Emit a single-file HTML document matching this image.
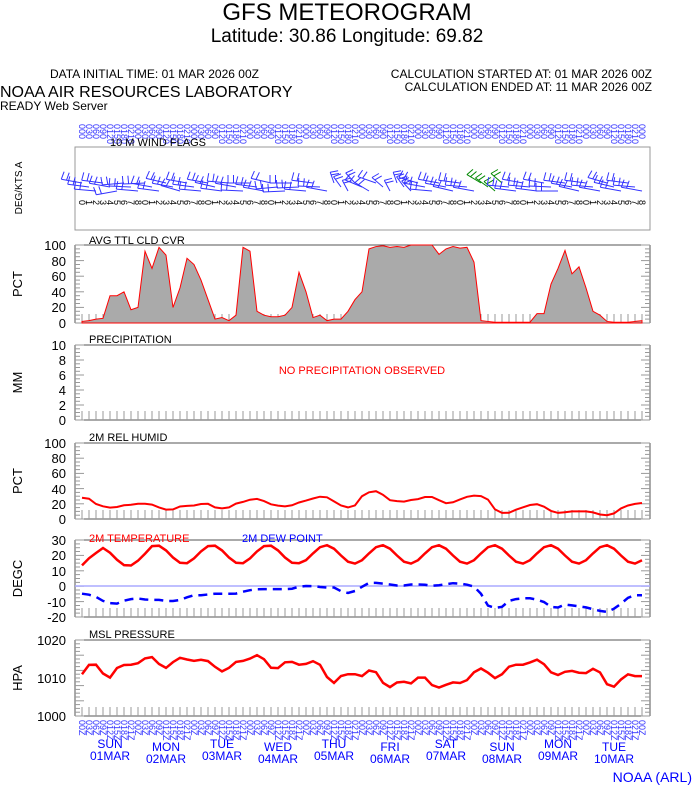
<!DOCTYPE html><html><head><style>body{margin:0;background:#fff}svg{display:block;font-family:"Liberation Sans",sans-serif}</style></head><body>
<svg id="s" width="694" height="788" xmlns="http://www.w3.org/2000/svg">
<text x="347" y="20" font-size="24" text-anchor="middle">GFS METEOROGRAM</text>
<text x="347" y="42" font-size="19" text-anchor="middle">Latitude: 30.86 Longitude:  69.82</text>
<text x="50" y="78" font-size="12">DATA INITIAL TIME: 01 MAR 2026 00Z</text>
<text x="652" y="78" font-size="12" text-anchor="end">CALCULATION STARTED AT: 01 MAR 2026 00Z</text>
<text x="652" y="91" font-size="12" text-anchor="end">CALCULATION ENDED AT: 11 MAR 2026 00Z</text>
<text x="0" y="97" font-size="16">NOAA AIR RESOURCES LABORATORY</text>
<text x="0" y="110" font-size="12">READY Web Server</text>
<g id="g"></g>
<text x="110" y="146" font-size="11">10 M  WIND FLAGS</text>
<text x="89" y="244" font-size="11">AVG TTL CLD CVR</text>
<text x="89" y="343" font-size="11">PRECIPITATION</text>
<text x="362" y="374" font-size="11" fill="#f00" text-anchor="middle">NO PRECIPITATION OBSERVED</text>
<text x="89" y="441" font-size="11">2M REL HUMID</text>
<text x="89" y="542" font-size="11" fill="#f00">2M TEMPERATURE</text>
<text x="242" y="542" font-size="11" fill="#00f">2M  DEW POINT</text>
<text x="89" y="638" font-size="11">MSL PRESSURE</text>
<text x="692" y="782" font-size="14" fill="#00f" text-anchor="end">NOAA (ARL)</text>
</svg>
<script>
var g=document.getElementById('g'),h='';
var X0=82,DX=7,N=81;
function xs(i){return X0+i*DX}
function interp(a,i){var t=i*(a.length-1)/(N-1),k=Math.floor(t),f=t-k;if(k>=a.length-1)return a[a.length-1];return a[k]*(1-f)+a[k+1]*f}
function ln(x1,y1,x2,y2,c,w){h+='<line x1="'+x1.toFixed(1)+'" y1="'+y1.toFixed(1)+'" x2="'+x2.toFixed(1)+'" y2="'+y2.toFixed(1)+'" stroke="'+c+'" stroke-width="'+(w||1)+'"/>'}
function tx(x,y,s,t,o){h+='<text x="'+x+'" y="'+y+'" font-size="'+s+'" '+(o||'')+'>'+t+'</text>'}
function frame(top,bot,labels,ylab){
 ln(75,top,650,top,'#555');ln(75,bot,650,bot,'#555');ln(75,top,75,bot,'#555');ln(650,top,650,bot,'#555');
 for(var i=0;i<N;i++)ln(xs(i),bot,xs(i),bot-9,'#999');
 for(var k=0;k<=20;k++){var y=top+(bot-top)*k/20;ln(75,y,k%4==0?84:80,y,'#999');ln(650,y,k%4==0?641:645,y,'#999');}
 labels.forEach(function(l){tx(66,l[1]+5,13,l[0],'text-anchor="end"')});
 var c=(top+bot)/2;tx(22,c,13,ylab,'text-anchor="middle" transform="rotate(-90 22 '+c+')"');
}
h+='<rect x="75" y="147" width="575" height="83" fill="none" stroke="#999"/>';
tx(22,188,10,'DEG/KTS  A','text-anchor="middle" transform="rotate(-90 22 188)"');
var ang=[200,195,190,195,200,160,170,185,190,175,200,195,205,200,210,200,195,190,200,205,195,190,200,185,180,195,200,205,170,175,180,175,190,195,185,200,260,250,255,245,220,230,215,240,255,260,250,245,210,200,190,200,200,205,195,190,200,230,235,240,240,190,195,200,190,195,200,185,180,195,200,205,195,190,200,210,205,200,195,190,200];
for(var i=0;i<N;i++){var x=xs(i);
 tx(x+3,118,9,'0'+(i%8)*3+'0','fill="#33f" transform="rotate(90 '+(x-3)+' 118)"');
 tx(x-3,200,9,String(i%9),'transform="rotate(90 '+(x-3)+' 200)"');
 tx(x-3,720,9,'0'+(i%8)*3+'Z','fill="#33f" transform="rotate(90 '+(x-3)+' 720)"');
 var a=ang[i]*Math.PI/180,L=22,col=(i>=57&&i<=60)?'#080':'#33f';
 var y0=183+(i%3)*4,ex=x+Math.cos(a)*L,ey=y0+Math.sin(a)*L*0.5;
 ln(x,y0,ex,ey,col);
 var px=-Math.sin(a)*8,py=Math.cos(a)*8;if(py>0){px=-px;py=-py}
 ln(ex,ey,ex+px,ey+py,col);
 var mx=x+Math.cos(a)*L*0.75,my=y0+Math.sin(a)*L*0.375;ln(mx,my,mx+px,my+py,col);}
frame(245,323,[['100',245],['80',261],['60',276],['40',292],['20',307],['0',323]],'PCT');
frame(345,420,[['10',345],['8',360],['6',375],['4',390],['2',405],['0',420]],'MM');
frame(443,519,[['100',443],['80',458],['60',473],['40',489],['20',504],['0',519]],'PCT');
frame(540,617,[['30',540],['20',555],['10',571],['0',586],['-10',602],['-20',617]],'DEGC');
frame(640,716,[['1020',640],['1010',678],['1000',716]],'HPA');
var cld=[2,3,5,6,35,35,40,17,20,92,70,97,87,20,45,83,75,55,30,5,7,3,10,97,92,15,10,8,8,10,20,65,40,7,10,3,5,5,15,30,40,95,98,99,97,98,97,100,100,100,100,88,95,98,96,97,78,3,2,1,1,1,1,1,1,12,12,50,70,93,63,72,45,15,10,2,1,1,1,2,3];
var p='M'+xs(0)+',323';for(var i=0;i<N;i++)p+=' L'+xs(i)+','+(323-cld[i]*0.78);p+=' L'+xs(N-1)+',323Z';
h+='<path d="'+p+'" fill="#aaa" stroke="#f00" stroke-width="1"/>';
function line(arr,f,c,w,d){var p='';for(var i=0;i<N;i++)p+=(i?' L':'M')+xs(i)+','+f(interp(arr,i)).toFixed(1);h+='<path d="'+p+'" fill="none" stroke="'+c+'" stroke-width="'+w+'" '+(d||'')+'/>'}
var rh=[28,27,20,17,15,15,18,18,20,20,20,18,13,12,13,18,17,18,20,20,15,14,15,20,22,25,27,25,20,18,17,16,20,23,25,28,30,28,22,17,15,18,30,35,37,33,25,24,22,25,25,28,30,28,22,20,23,27,30,31,30,25,12,8,8,12,15,18,20,18,12,8,8,10,10,10,10,8,5,5,8,15,18,20,21];
line(rh,function(v){return 519-v*0.76},'#f00',2);
var T=[];for(var i=0;i<N;i++){var x=xs(i);T.push(20.5+6*Math.cos(2*Math.PI*(x-100-(x>300?2:0))/56)+(i<10?-1.5:0)+(i<3?-3:0))}
line(T,function(v){return 586-v*1.54},'#f00',2.5);
ln(75,586,650,586,'#aaf',1.5);
var dp=[-5,-6,-10,-12,-9,-8,-9,-9,-10,-9,-6,-6,-5,-5,-5,-3,-2,-2,-2,-2,0,0,-1,-1,-5,-3,2,2,1,0,1,1,0,1,2,1,-1,-13,-15,-9,-8,-8,-10,-15,-12,-13,-14,-16,-17,-12,-6,-6];
line(dp,function(v){return 586-v*1.54},'#00f',2.5,'stroke-dasharray="9,6"');
var pr=[1011,1013.5,1013.5,1011,1010,1013,1013.5,1013.5,1014,1015.5,1015.5,1013,1012.5,1015,1015.5,1014.5,1014.5,1015,1014,1012,1011.5,1014,1014.5,1014.5,1016,1016,1013,1012,1014,1014.5,1013.5,1013.5,1014.5,1014,1010.5,1008.5,1010.5,1011,1011,1010.5,1012,1011.5,1008.5,1007.5,1009,1009,1008.5,1010.5,1010,1007.5,1007.5,1008.5,1009,1008.5,1010,1012.5,1012.5,1010.5,1009.5,1012.5,1013.5,1013.5,1013.5,1015,1014.5,1012,1010.5,1011.5,1012,1011.5,1011,1012.5,1012,1008.5,1007.5,1009.5,1011,1010.5,1010.5];
line(pr,function(v){return 716-(v-1000)*3.8},'#f00',2.5);
var days=['SUN','MON','TUE','WED','THU','FRI','SAT','SUN','MON','TUE'],dd=['01MAR','02MAR','03MAR','04MAR','05MAR','06MAR','07MAR','08MAR','09MAR','10MAR'];
for(var d=0;d<10;d++){var cx=110+d*56,yo=(d%2)*3;tx(cx,748+yo,12,days[d],'fill="#00f" text-anchor="middle"');tx(cx,760+yo,12,dd[d],'fill="#00f" text-anchor="middle"');}
g.innerHTML=h;
</script></body></html>
